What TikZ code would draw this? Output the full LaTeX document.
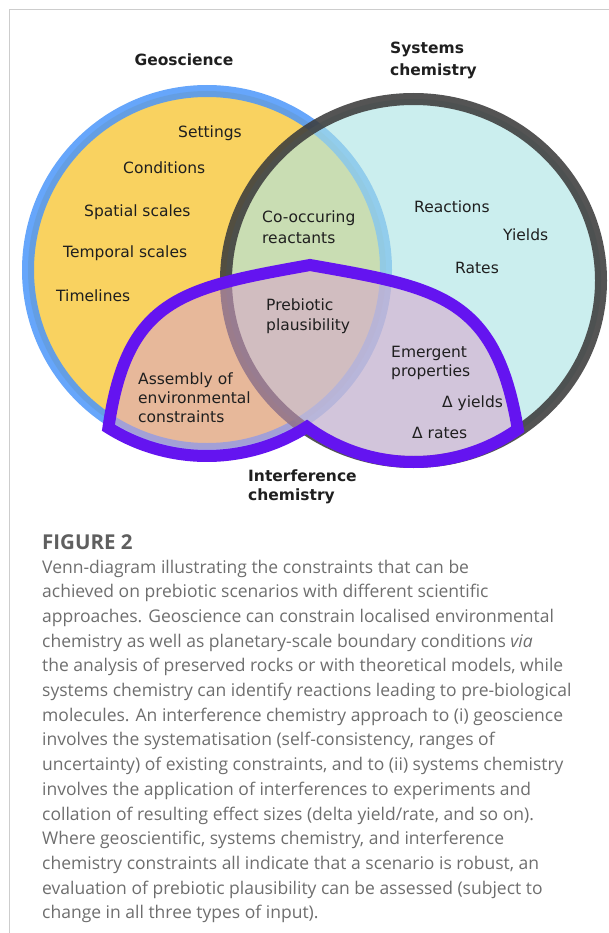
\documentclass[tikz,border=0pt]{standalone}
\usepackage{fontspec}
\setmainfont{DejaVu Sans}
\newfontfamily\capfont{Open Sans}
\usetikzlibrary{positioning,calc}
\definecolor{geoYel}{RGB}{249,210,96}
\definecolor{geoBlue}{RGB}{75,150,250}
\definecolor{sysCyan}{RGB}{173,228,228}
\definecolor{sysGray}{RGB}{60,60,60}
\definecolor{intFill}{RGB}{217,163,204}
\definecolor{intLine}{RGB}{100,20,240}
\definecolor{capGray}{RGB}{110,110,110}
\definecolor{figGray}{RGB}{95,95,95}
\definecolor{frameGray}{RGB}{205,205,205}

\begin{document}
\begin{tikzpicture}[x=1pt,y=1pt,
  lbl/.style={font=\fontsize{15.5}{20}\selectfont, text=black!88,
    inner sep=0pt, align=left, anchor=base west},
  head/.style={lbl, font=\fontsize{15.5}{22}\selectfont\bfseries},
  ring/.style={line width=12pt}
]
\useasboundingbox (0,0) rectangle (609,-933);

% frame
\draw[frameGray, line width=1.2pt] (9.5,-933) -- (9.5,-9.5) -- (609,-9.5);

% the two circles
\coordinate (cGeo) at (207,-270);
\coordinate (cSys) at (413.5,-280.5);
\fill[geoYel] (cGeo) circle[radius=179];
\draw[ring, geoBlue, draw opacity=0.85] (cGeo) circle[radius=179];
\fill[sysCyan, fill opacity=0.63] (cSys) ellipse[x radius=187.5, y radius=181.5];
\draw[ring, sysGray, draw opacity=0.88] (cSys) ellipse[x radius=187.5, y radius=181.5];

% interference lobe
\coordinate (cLobe) at (414,-281);
\path[fill=intFill, fill opacity=0.54, draw=intLine, ring, line join=miter]
  ($(cGeo)+(238:186)$) .. controls (127,-298) and (182,-288) .. (310,-265)
  .. controls (438,-287.6) and (495.7,-295.9) .. ($(cLobe)+(305:181)$)
  arc[start angle=305, end angle=233.7, radius=181]
  arc[start angle=302.5, end angle=239.5, radius=186] -- cycle;

% headings (base = last line)
\node[head, anchor=base] (geo) at (184,-65.5) {Geoscience};
\node[head] (sys) at (390,-75.5) {Systems\\chemistry};
\node[head, font=\fontsize{15.5}{19}\selectfont\bfseries] (intf) at (248,-500.5)
  {Interference\\chemistry};

% geoscience
\node[lbl] (set)  at (178,-137.5) {Settings};
\node[lbl] (cond) at (123,-173.5) {Conditions};
\node[lbl] (spat) at (84,-216.5)  {Spatial scales};
\node[lbl] (temp) at (63,-257.5)  {Temporal scales};
\node[lbl] (time) at (56,-301.5)  {Timelines};

% systems chemistry
\node[lbl] (reac) at (414,-212.5) {Reactions};
\node[lbl] (yld)  at (503,-240.5) {Yields};
\node[lbl] (rate) at (455,-273.5) {Rates};

% overlaps
\node[lbl, font=\fontsize{15.5}{21}\selectfont] (cooc) at (262,-243.5)
  {Co-occuring\\reactants};
\node[lbl] (preb) at (266,-330.5) {Prebiotic\\plausibility};
\node[lbl, font=\fontsize{15.5}{19}\selectfont] (asm) at (138,-422.5)
  {Assembly of\\environmental\\constraints};
\node[lbl, font=\fontsize{15.5}{19}\selectfont] (emer) at (391,-376.5)
  {Emergent\\properties};
\node[lbl] (dyld) at (442,-407.5) {Δ yields};
\node[lbl] (drat) at (412,-438.5) {Δ rates};

% caption
\node[anchor=base west, inner sep=0pt, text=figGray,
  font=\capfont\fontsize{20.5}{24}\selectfont\bfseries] (fig) at (42,-549)
  {FIGURE 2};
\node[anchor=base west, inner sep=0pt, text=capGray, align=left,
  font=\capfont\fontsize{17.5}{24.7}\selectfont] (cap) at (42,-918.8)
  {Venn-diagram illustrating the constraints that can be\\
   achieved on prebiotic scenarios with different scientific\\
   approaches. Geoscience can constrain localised environmental\\
   chemistry as well as planetary-scale boundary conditions \textit{via}\\
   the analysis of preserved rocks or with theoretical models, while\\
   systems chemistry can identify reactions leading to pre-biological\\
   molecules. An interference chemistry approach to (i) geoscience\\
   involves the systematisation (self-consistency, ranges of\\
   uncertainty) of existing constraints, and to (ii) systems chemistry\\
   involves the application of interferences to experiments and\\
   collation of resulting effect sizes (delta yield/rate, and so on).\\
   Where geoscientific, systems chemistry, and interference\\
   chemistry constraints all indicate that a scenario is robust, an\\
   evaluation of prebiotic plausibility can be assessed (subject to\\
   change in all three types of input).};
\end{tikzpicture}
\end{document}
